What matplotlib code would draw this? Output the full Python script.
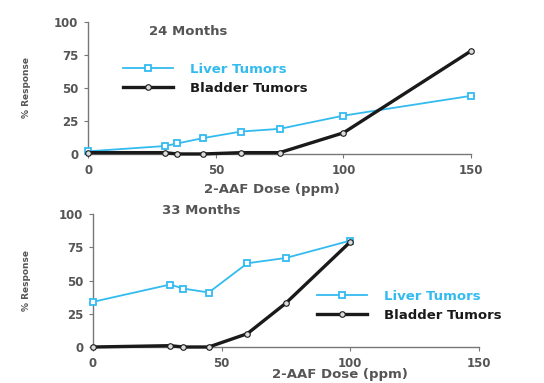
import matplotlib
matplotlib.use("Agg")
import matplotlib.pyplot as plt

dose = [0, 30, 35, 45, 60, 75, 100, 150]

liver_24 = [2, 6, 8, 12, 17, 19, 29, 44]
bladder_24 = [1, 1, 0, 0, 1, 1, 16, 78]

dose_33 = [0, 30, 35, 45, 60, 75, 100]
liver_33 = [34, 47, 44, 41, 63, 67, 80]
bladder_33 = [0, 1, 0, 0, 10, 33, 79]

yticks = [0, 25, 50, 75, 100]
xticks = [0, 50, 100, 150]

CYAN = "#33bbf0"
DARK = "#1a1a1a"
GREY = "#555555"

plt.rcParams["font.family"] = "DejaVu Sans"
plt.rcParams["font.weight"] = "bold"

fig = plt.figure(figsize=(5.44, 3.83), dpi=100)
ax1 = fig.add_axes([0.162, 0.598, 0.704, 0.345])
ax2 = fig.add_axes([0.171, 0.094, 0.709, 0.347])


def style(ax):
    ax.set_xlim(0, 150)
    ax.set_ylim(0, 100)
    ax.set_xticks(xticks)
    ax.set_yticks(yticks)
    for s in ["top", "right"]:
        ax.spines[s].set_visible(False)
    for s in ["left", "bottom"]:
        ax.spines[s].set_color("#777777")
        ax.spines[s].set_linewidth(1.0)
    ax.tick_params(length=3, width=0.8, color="#777777", labelsize=8.5,
                   labelcolor=GREY, pad=4)
    for lbl in ax.get_xticklabels() + ax.get_yticklabels():
        lbl.set_fontweight("bold")
    ax.set_ylabel("% Response", fontsize=6.5, fontweight="bold", color=GREY)
    ax.set_xlabel("2-AAF Dose (ppm)", fontsize=9.5, fontweight="bold",
                  color=GREY)


def draw(ax, x, liver, bladder):
    ax.plot(x, liver, color=CYAN, lw=1.3, marker="s", ms=5,
            mfc="white", mec=CYAN, mew=1.3, label="Liver Tumors",
            clip_on=False, zorder=3)
    ax.plot(x, bladder, color=DARK, lw=2.4, marker="o", ms=4,
            mfc="#dddddd", mec=DARK, mew=0.8, label="Bladder Tumors",
            clip_on=False, zorder=4)


legend_kw = dict(frameon=False, handlelength=3.8, handletextpad=1.3,
                 labelspacing=0.45, prop={"size": 9.5, "weight": "bold"},
                 labelcolor="linecolor")

draw(ax1, dose, liver_24, bladder_24)
style(ax1)
ax1.yaxis.set_label_coords(-0.15, 0.5)
ax1.xaxis.set_label_coords(0.48, -0.22)
ax1.text(0.16, 0.9, "24 Months", transform=ax1.transAxes, fontsize=9.5,
         fontweight="bold", color=GREY)
ax1.legend(loc="upper left", bbox_to_anchor=(0.06, 0.78), **legend_kw)

draw(ax2, dose_33, liver_33, bladder_33)
style(ax2)
ax2.yaxis.set_label_coords(-0.16, 0.5)
ax2.xaxis.set_label_coords(0.64, -0.16)
ax2.text(0.18, 1.0, "33 Months", transform=ax2.transAxes, fontsize=9.5,
         fontweight="bold", color=GREY)
ax2.legend(loc="upper left", bbox_to_anchor=(0.55, 0.52), **legend_kw)

fig.savefig("out.png", dpi=100)
